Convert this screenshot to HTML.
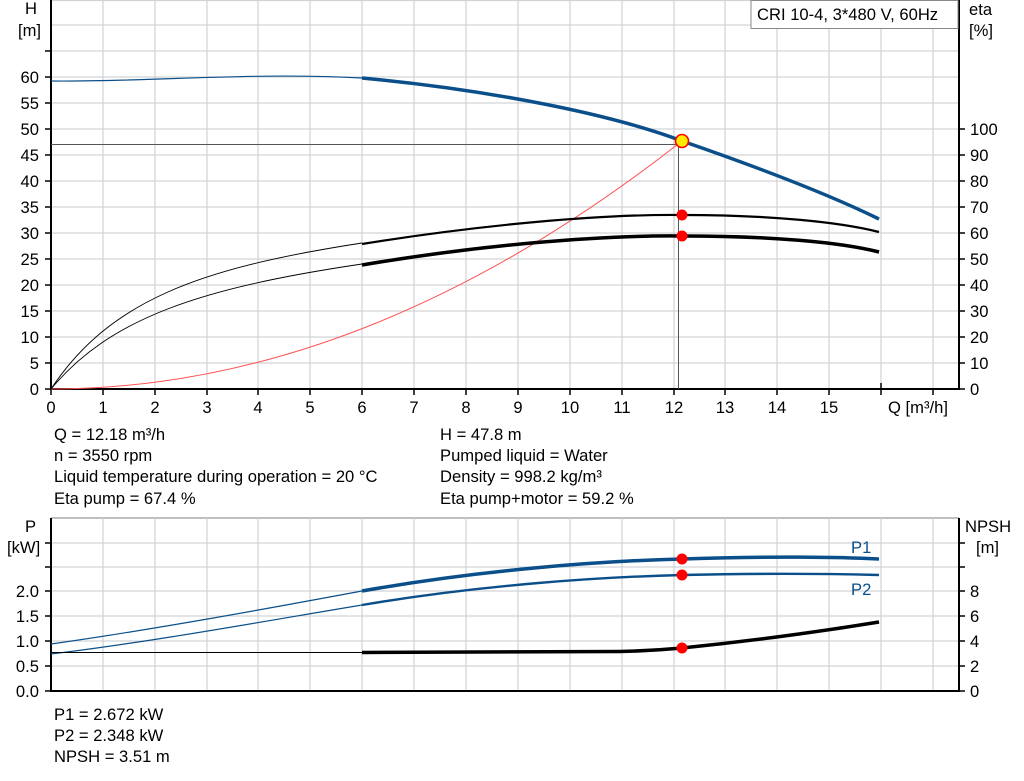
<!DOCTYPE html>
<html><head><meta charset="utf-8"><style>
body{margin:0;background:#fff;}
svg{display:block;font-family:"Liberation Sans",Arial,sans-serif;}
text{font-size:16.6px;fill:#000;}
</style></head><body>
<svg width="1024" height="781" viewBox="0 0 1024 781" xmlns="http://www.w3.org/2000/svg">
<g stroke="#d0d3d6" stroke-width="1.2">
<line x1="51" y1="0.5" x2="959" y2="0.5"/>
<line x1="51" y1="25" x2="959" y2="25"/><line x1="51" y1="51" x2="959" y2="51"/>
<line x1="51" y1="77" x2="959" y2="77"/><line x1="51" y1="103" x2="959" y2="103"/>
<line x1="51" y1="129" x2="959" y2="129"/><line x1="51" y1="155" x2="959" y2="155"/>
<line x1="51" y1="181" x2="959" y2="181"/><line x1="51" y1="207" x2="959" y2="207"/>
<line x1="51" y1="233" x2="959" y2="233"/><line x1="51" y1="259" x2="959" y2="259"/>
<line x1="51" y1="285" x2="959" y2="285"/><line x1="51" y1="311" x2="959" y2="311"/>
<line x1="51" y1="337" x2="959" y2="337"/><line x1="51" y1="363" x2="959" y2="363"/>
<line x1="103" y1="0" x2="103" y2="389"/><line x1="155" y1="0" x2="155" y2="389"/>
<line x1="207" y1="0" x2="207" y2="389"/><line x1="258" y1="0" x2="258" y2="389"/>
<line x1="310" y1="0" x2="310" y2="389"/><line x1="362" y1="0" x2="362" y2="389"/>
<line x1="414" y1="0" x2="414" y2="389"/><line x1="466" y1="0" x2="466" y2="389"/>
<line x1="518" y1="0" x2="518" y2="389"/><line x1="570" y1="0" x2="570" y2="389"/>
<line x1="622" y1="0" x2="622" y2="389"/><line x1="674" y1="0" x2="674" y2="389"/>
<line x1="725" y1="0" x2="725" y2="389"/><line x1="777" y1="0" x2="777" y2="389"/>
<line x1="829" y1="0" x2="829" y2="389"/><line x1="881" y1="0" x2="881" y2="389"/>
<line x1="933" y1="0" x2="933" y2="389"/>
</g>
<g stroke="#d0d3d6" stroke-width="1.2">
<line x1="51" y1="518" x2="959" y2="518" stroke="#999"/>
<line x1="51" y1="543" x2="959" y2="543"/><line x1="51" y1="567" x2="959" y2="567"/>
<line x1="51" y1="591" x2="959" y2="591"/><line x1="51" y1="616" x2="959" y2="616"/>
<line x1="51" y1="641" x2="959" y2="641"/><line x1="51" y1="666" x2="959" y2="666"/>
<line x1="103" y1="518" x2="103" y2="691"/><line x1="155" y1="518" x2="155" y2="691"/>
<line x1="207" y1="518" x2="207" y2="691"/><line x1="258" y1="518" x2="258" y2="691"/>
<line x1="310" y1="518" x2="310" y2="691"/><line x1="362" y1="518" x2="362" y2="691"/>
<line x1="414" y1="518" x2="414" y2="691"/><line x1="466" y1="518" x2="466" y2="691"/>
<line x1="518" y1="518" x2="518" y2="691"/><line x1="570" y1="518" x2="570" y2="691"/>
<line x1="622" y1="518" x2="622" y2="691"/><line x1="674" y1="518" x2="674" y2="691"/>
<line x1="725" y1="518" x2="725" y2="691"/><line x1="777" y1="518" x2="777" y2="691"/>
<line x1="829" y1="518" x2="829" y2="691"/><line x1="881" y1="518" x2="881" y2="691"/>
<line x1="933" y1="518" x2="933" y2="691"/>
</g>
<g stroke="#000" stroke-width="2" fill="none">
<line x1="51" y1="0" x2="51" y2="390"/><line x1="51" y1="389" x2="959" y2="389"/><line x1="959" y1="0" x2="959" y2="390"/>
<line x1="51" y1="518" x2="51" y2="692"/><line x1="51" y1="691" x2="959" y2="691"/><line x1="959" y1="518" x2="959" y2="692"/>
</g>
<g stroke="#000" stroke-width="1.5">
<line x1="45" y1="51" x2="51" y2="51"/><line x1="45" y1="77" x2="51" y2="77"/><line x1="45" y1="103" x2="51" y2="103"/><line x1="45" y1="129" x2="51" y2="129"/><line x1="45" y1="155" x2="51" y2="155"/><line x1="45" y1="181" x2="51" y2="181"/><line x1="45" y1="207" x2="51" y2="207"/><line x1="45" y1="233" x2="51" y2="233"/><line x1="45" y1="259" x2="51" y2="259"/><line x1="45" y1="285" x2="51" y2="285"/><line x1="45" y1="311" x2="51" y2="311"/><line x1="45" y1="337" x2="51" y2="337"/><line x1="45" y1="363" x2="51" y2="363"/><line x1="45" y1="389" x2="51" y2="389"/>
<line x1="959" y1="129" x2="965" y2="129"/><line x1="959" y1="155" x2="965" y2="155"/><line x1="959" y1="181" x2="965" y2="181"/><line x1="959" y1="207" x2="965" y2="207"/><line x1="959" y1="233" x2="965" y2="233"/><line x1="959" y1="259" x2="965" y2="259"/><line x1="959" y1="285" x2="965" y2="285"/><line x1="959" y1="311" x2="965" y2="311"/><line x1="959" y1="337" x2="965" y2="337"/><line x1="959" y1="363" x2="965" y2="363"/><line x1="959" y1="389" x2="965" y2="389"/>
<line x1="51" y1="389" x2="51" y2="395"/><line x1="103" y1="389" x2="103" y2="395"/><line x1="155" y1="389" x2="155" y2="395"/><line x1="207" y1="389" x2="207" y2="395"/><line x1="258" y1="389" x2="258" y2="395"/><line x1="310" y1="389" x2="310" y2="395"/><line x1="362" y1="389" x2="362" y2="395"/><line x1="414" y1="389" x2="414" y2="395"/><line x1="466" y1="389" x2="466" y2="395"/><line x1="518" y1="389" x2="518" y2="395"/><line x1="570" y1="389" x2="570" y2="395"/><line x1="622" y1="389" x2="622" y2="395"/><line x1="674" y1="389" x2="674" y2="395"/><line x1="725" y1="389" x2="725" y2="395"/><line x1="777" y1="389" x2="777" y2="395"/><line x1="829" y1="389" x2="829" y2="395"/><line x1="881" y1="389" x2="881" y2="395"/><line x1="933" y1="389" x2="933" y2="395"/>
<line x1="881" y1="389" x2="881" y2="383"/>
<line x1="45" y1="543" x2="51" y2="543"/><line x1="45" y1="567" x2="51" y2="567"/><line x1="45" y1="591" x2="51" y2="591"/><line x1="45" y1="616" x2="51" y2="616"/><line x1="45" y1="641" x2="51" y2="641"/><line x1="45" y1="666" x2="51" y2="666"/><line x1="45" y1="691" x2="51" y2="691"/>
<line x1="959" y1="543" x2="965" y2="543"/><line x1="959" y1="567" x2="965" y2="567"/><line x1="959" y1="591" x2="965" y2="591"/><line x1="959" y1="616" x2="965" y2="616"/><line x1="959" y1="641" x2="965" y2="641"/><line x1="959" y1="666" x2="965" y2="666"/><line x1="959" y1="691" x2="965" y2="691"/>
</g>
<g text-anchor="end">
<text x="39" y="83">60</text><text x="39" y="109">55</text><text x="39" y="135">50</text><text x="39" y="161">45</text><text x="39" y="187">40</text><text x="39" y="213">35</text><text x="39" y="239">30</text><text x="39" y="265">25</text><text x="39" y="291">20</text><text x="39" y="317">15</text><text x="39" y="343">10</text><text x="39" y="369">5</text><text x="39" y="395">0</text>
<text x="39" y="597">2.0</text><text x="39" y="622">1.5</text><text x="39" y="647">1.0</text><text x="39" y="672">0.5</text><text x="39" y="697">0.0</text>
</g>
<text x="25" y="14">H</text><text x="18" y="36">[m]</text>
<text x="25" y="532">P</text><text x="7" y="553">[kW]</text>
<text x="969" y="15">eta</text><text x="969" y="36">[%]</text>
<text x="965" y="532">NPSH</text><text x="976" y="553">[m]</text>
<g>
<text x="970" y="135">100</text><text x="970" y="161">90</text><text x="970" y="187">80</text><text x="970" y="213">70</text><text x="970" y="239">60</text><text x="970" y="265">50</text><text x="970" y="291">40</text><text x="970" y="317">30</text><text x="970" y="343">20</text><text x="970" y="369">10</text><text x="970" y="395">0</text>
<text x="970" y="597">8</text><text x="970" y="622">6</text><text x="970" y="647">4</text><text x="970" y="672">2</text><text x="970" y="697">0</text>
</g>
<g text-anchor="middle">
<text x="51" y="413">0</text><text x="103" y="413">1</text><text x="155" y="413">2</text><text x="207" y="413">3</text><text x="258" y="413">4</text><text x="310" y="413">5</text><text x="362" y="413">6</text><text x="414" y="413">7</text><text x="466" y="413">8</text><text x="518" y="413">9</text><text x="570" y="413">10</text><text x="622" y="413">11</text><text x="674" y="413">12</text><text x="725" y="413">13</text><text x="777" y="413">14</text><text x="829" y="413">15</text>
</g>
<text x="888" y="413">Q [m³/h]</text>
<rect x="751" y="0.5" width="207" height="28" fill="#fff" stroke="#888"/>
<text x="757" y="20">CRI 10-4, 3*480 V, 60Hz</text>
<line x1="51" y1="144.5" x2="680" y2="144.5" stroke="#555" stroke-width="1"/>
<line x1="678.5" y1="144" x2="678.5" y2="389" stroke="#555" stroke-width="1"/>
<path d="M51,389 Q366,389 682,141" fill="none" stroke="#ff5050" stroke-width="1"/>
<path d="M51,81 C150,82 250,72 362,78" fill="none" stroke="#0b4f8a" stroke-width="1.2"/>
<path d="M362,78 C470,88 600,110 682,141 C760,168 830,195 879,219" fill="none" stroke="#0b4f8a" stroke-width="3.5"/>
<path d="M51,389 C110,300 200,268 362,243" fill="none" stroke="#000" stroke-width="0.9"/>
<path d="M51,389 C110,318 200,288 362,264" fill="none" stroke="#000" stroke-width="0.9"/>
<path d="M362,244 C480,225 600,214 682,215 C770,215 840,222 879,232" fill="none" stroke="#000" stroke-width="2.2"/>
<path d="M362,265 C480,245 600,235 682,236 C770,236 840,242 879,252" fill="none" stroke="#000" stroke-width="3.5"/>
<circle cx="682" cy="215" r="5.5" fill="#f00"/>
<circle cx="682" cy="236" r="5.5" fill="#f00"/>
<circle cx="682" cy="141" r="6.5" fill="#ffea00" stroke="#f00" stroke-width="1.6"/>
<path d="M51,644 C150,630 260,610 362,591" fill="none" stroke="#0b4f8a" stroke-width="1.2"/>
<path d="M51,654 C150,642 260,622 362,605" fill="none" stroke="#0b4f8a" stroke-width="1.2"/>
<path d="M362,591 C480,570 600,561 682,559 C770,556 840,557 879,559" fill="none" stroke="#0b4f8a" stroke-width="3.5"/>
<path d="M362,605 C480,585 600,577 682,575 C770,573 840,574 879,575" fill="none" stroke="#0b4f8a" stroke-width="2.4"/>
<line x1="51" y1="652.5" x2="362" y2="652.5" stroke="#000" stroke-width="1"/>
<path d="M362,652.5 L620,651.5 C645,651 660,650 682,648 C760,640 830,630 879,622" fill="none" stroke="#000" stroke-width="3.5"/>
<circle cx="682" cy="559" r="5.5" fill="#f00"/>
<circle cx="682" cy="575" r="5.5" fill="#f00"/>
<circle cx="682" cy="648" r="5.5" fill="#f00"/>
<text x="851" y="553" style="fill:#0b4f8a">P1</text>
<text x="851" y="595" style="fill:#0b4f8a">P2</text>
<text x="54" y="440">Q = 12.18 m³/h</text>
<text x="54" y="461">n = 3550 rpm</text>
<text x="54" y="482">Liquid temperature during operation = 20 °C</text>
<text x="54" y="504">Eta pump = 67.4 %</text>
<text x="440" y="440">H = 47.8 m</text>
<text x="440" y="461">Pumped liquid = Water</text>
<text x="440" y="482">Density = 998.2 kg/m³</text>
<text x="440" y="504">Eta pump+motor = 59.2 %</text>
<text x="54" y="720">P1 = 2.672 kW</text>
<text x="54" y="741">P2 = 2.348 kW</text>
<text x="54" y="762">NPSH = 3.51 m</text>
</svg>
</body></html>
